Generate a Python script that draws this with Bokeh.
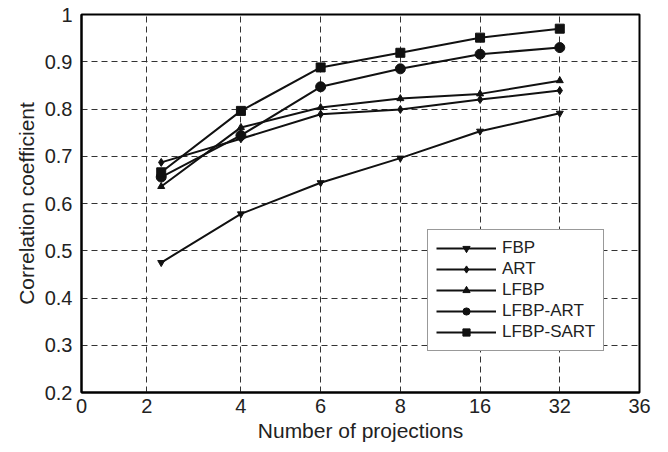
from bokeh.plotting import figure
from bokeh.models import FixedTicker, Legend
from bokeh.embed import file_html
from bokeh.resources import INLINE

# Data
projections = ["2", "4", "6", "8", "16", "32"]
x_pos = [1.0, 2.0, 3.0, 4.0, 5.0, 6.0]
fbp = [0.475, 0.578, 0.644, 0.696, 0.753, 0.791]
art = [0.687, 0.737, 0.789, 0.799, 0.820, 0.839]
lfbp = [0.636, 0.761, 0.803, 0.822, 0.832, 0.860]
lfbp_art = [0.656, 0.744, 0.847, 0.885, 0.916, 0.930]
lfbp_sart = [0.666, 0.796, 0.888, 0.919, 0.951, 0.970]

x_tick_pos = [0, 0.82, 2, 3, 4, 5, 6, 7]
x_tick_labels = ["0", "2", "4", "6", "8", "16", "32", "36"]
y_ticks = [0.2, 0.3, 0.4, 0.5, 0.6, 0.7, 0.8, 0.9, 1.0]
y_tick_labels = ["0.2", "0.3", "0.4", "0.5", "0.6", "0.7", "0.8", "0.9", "1"]

FONT = "Liberation Sans"

p = figure(frame_width=558, frame_height=378, output_backend="svg", toolbar_location=None,
           x_range=(0, 7), y_range=(0.2, 1.0),
           min_border_left=81, min_border_right=20, min_border_top=14, min_border_bottom=50)

p.outline_line_color = "black"
p.outline_line_width = 2
p.outline_line_alpha = 1

p.xaxis.ticker = FixedTicker(ticks=x_tick_pos)
p.xaxis.major_label_overrides = {t: l for t, l in zip(x_tick_pos, x_tick_labels)}
p.yaxis.ticker = FixedTicker(ticks=y_ticks)
p.yaxis.major_label_overrides = {t: l for t, l in zip(y_ticks, y_tick_labels)}

for ax in (p.xaxis, p.yaxis):
    ax.axis_line_color = "black"
    ax.axis_line_width = 2
    ax.major_tick_in = 0
    ax.major_tick_out = 0
    ax.minor_tick_in = 0
    ax.minor_tick_out = 0
    ax.major_label_text_font = FONT
    ax.major_label_text_font_size = "20px"
    ax.major_label_text_color = "#222222"
    ax.axis_label_text_font = FONT
    ax.axis_label_text_font_size = "21px"
    ax.axis_label_text_font_style = "normal"
    ax.axis_label_text_color = "#222222"

p.xaxis.axis_label = "Number of projections"
p.yaxis.axis_label = "Correlation coefficient"
p.xaxis.major_label_standoff = 6
p.yaxis.major_label_standoff = 9
p.xaxis.axis_label_standoff = 3
p.yaxis.axis_label_standoff = 4

for g in (p.xgrid, p.ygrid):
    g.grid_line_color = "#333333"
    g.grid_line_dash = "6 4"
    g.grid_line_width = 1

series = [
    ("FBP", fbp, "inverted_triangle", 7),
    ("ART", art, "diamond", 8),
    ("LFBP", lfbp, "triangle", 7),
    ("LFBP-ART", lfbp_art, "circle", 10),
    ("LFBP-SART", lfbp_sart, "square", 9),
]

items = []
for name, ys, marker, size in series:
    r1 = p.line(x_pos, ys, line_color="#111111", line_width=2)
    r2 = p.scatter(x_pos, ys, marker=marker, size=size, fill_color="#111111", line_color="#111111")
    items.append((name, [r1, r2]))

legend = Legend(items=items, location=(346, 41))
legend.label_text_font = FONT
legend.label_text_font_size = "17px"
legend.label_text_color = "#222222"
legend.border_line_color = "#333333"
legend.border_line_width = 1.5
legend.background_fill_color = "white"
legend.background_fill_alpha = 1
legend.glyph_width = 60
legend.glyph_height = 18
legend.label_height = 18
legend.spacing = 1
legend.padding = 8
legend.margin = 0
legend.label_standoff = 6
p.add_layout(legend, "center")

open("out.html", "w").write(file_html(p, INLINE))
